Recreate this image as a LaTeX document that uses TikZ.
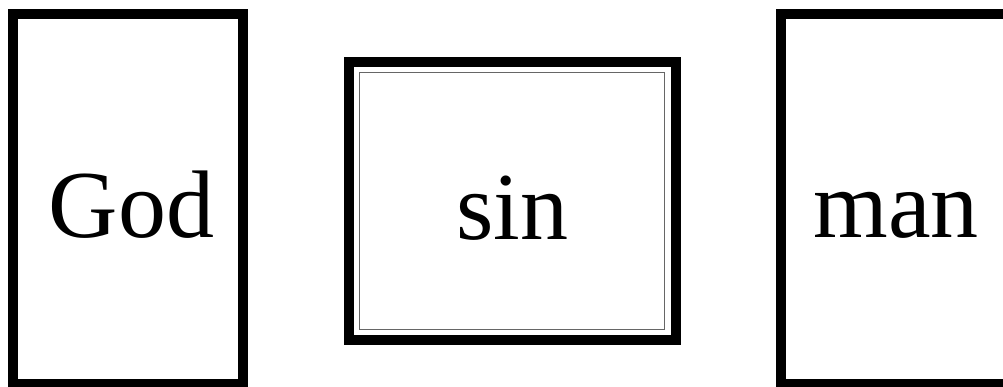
\documentclass[tikz,border=0pt]{standalone}
\usepackage{fontspec}
\setmainfont{Liberation Serif}
\usetikzlibrary{positioning}

\begin{document}
\begin{tikzpicture}[
  x=1pt, y=-1pt,
  every node/.style={draw, line width=10pt, outer sep=0pt, inner sep=0pt,
    text height=76pt, text depth=0pt, font=\fontsize{96}{96}\selectfont},
  tallbox/.style={minimum width=230pt, minimum height=370pt},
  widebox/.style={minimum width=327pt, minimum height=278pt},
  innerline/.style={draw=black!60, line width=1pt},
]
  \useasboundingbox (0,0) rectangle (1003,386);
  \clip (0,0) rectangle (1003,386);

  % Nodes -- one row
  \node[tallbox, text width=222pt, align=center] (god) at (128,199) {\hspace*{7pt}God};
  \node[widebox] (sin) at (512.5,201) {sin};
  \node[tallbox] (man) at (896,199) {man};

  % thin inner frame of sin
  \draw[innerline] ([shift={(10,10)}]sin.north west)
    rectangle ([shift={(-11.5,-11)}]sin.south east);

\end{tikzpicture}
\end{document}
